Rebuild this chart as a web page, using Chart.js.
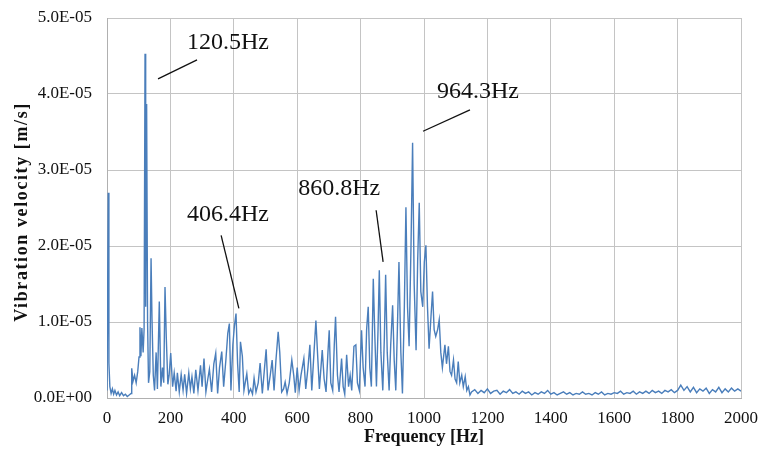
<!DOCTYPE html>
<html>
<head>
<meta charset="utf-8">
<script src="https://cdn.jsdelivr.net/npm/chart.js@4.4.1/dist/chart.umd.min.js"></script>
<style>
    html, body { margin: 0; padding: 0; background: #fff; }
    #wrap { width: 760px; height: 453px; position: relative; }
</style>
</head>
<body>
<div id="wrap"><canvas id="espectro"></canvas></div>
<script>
// Frecuencias (Hz) y velocidad (en 1E-06 m/s), zona 0-1150 Hz
const freqHz = [
    0, 4, 6, 9, 13, 17, 21, 25, 30, 35,
    40, 46, 52, 58, 64, 70, 76, 78, 82, 87,
    92, 97, 101, 104, 107, 110, 114, 117, 120, 122,
    125, 128, 131, 135, 139, 142, 146, 150, 155, 159,
    165, 170, 175, 179, 183, 187, 192, 196, 201, 207,
    212, 218, 222, 228, 234, 240, 245, 251, 258, 263,
    268, 274, 280, 287, 295, 300, 306, 312, 318, 323,
    330, 337, 343, 349, 355, 362, 368, 375, 381, 386,
    391, 397, 402, 407, 412, 417, 421, 427, 432, 436,
    441, 447, 453, 459, 464, 470, 477, 483, 490, 496,
    502, 508, 515, 521, 527, 533, 540, 545, 551, 557,
    562, 568, 575, 583, 589, 594, 600, 606, 612, 621,
    627, 634, 640, 646, 653, 659, 664, 670, 679, 685,
    691, 697, 701, 706, 712, 717, 721, 727, 732, 740,
    745, 750, 756, 762, 767, 772, 779, 785, 790, 796,
    803, 808, 814, 819, 824, 829, 834, 840, 845, 850,
    855, 859, 864, 870, 875, 879, 884, 890, 895, 901,
    906, 911, 916, 921, 927, 932, 938, 943, 948, 953,
    959, 964, 969, 975, 980, 985, 990, 996, 1001, 1006,
    1011, 1016, 1022, 1027, 1032, 1037, 1043, 1048, 1053, 1058,
    1062, 1066, 1071, 1077, 1082, 1087, 1093, 1098, 1103, 1108,
    1113, 1119, 1124, 1130, 1135, 1140, 1145
];
const velocityE6 = [
    1.0, 27.0, 4.6, 1.5, 0.6, 1.2, 0.5, 1.0, 0.4, 0.8,
    0.3, 0.7, 0.3, 0.5, 0.2, 0.4, 0.6, 3.9, 2.2, 3.0,
    2.0, 3.5, 5.4, 9.3, 5.5, 9.2, 6.0, 9.0, 45.3, 12.0,
    38.7, 10.0, 2.0, 3.5, 18.4, 10.3, 3.0, 1.0, 6.0, 1.2,
    12.7, 1.5, 4.0, 2.0, 14.6, 8.0, 1.8, 3.0, 5.9, 1.5,
    3.3, 0.9, 3.3, 0.8, 3.1, 1.0, 3.1, 0.6, 3.3, 1.2,
    2.8, 0.6, 3.7, 1.0, 4.3, 1.5, 5.2, 0.8, 2.5, 3.8,
    0.8, 4.5, 5.9, 0.6, 4.0, 6.1, 1.5, 5.0, 8.5, 9.8,
    1.0, 7.0, 9.5, 11.1, 4.5, 0.8, 7.4, 5.5, 1.0, 2.0,
    3.2, 0.6, 1.2, 0.5, 2.6, 0.8, 2.0, 4.6, 0.6, 3.5,
    6.4, 1.0, 3.0, 5.0, 1.0, 5.0, 8.7, 6.0, 0.8, 1.2,
    2.1, 0.6, 2.0, 5.0, 3.0, 0.7, 4.0, 1.0, 3.0, 5.2,
    1.2, 4.0, 7.0, 1.0, 6.0, 10.2, 6.0, 1.2, 6.3, 2.5,
    0.8, 6.0, 8.9, 2.0, 1.0, 7.0, 10.7, 3.0, 0.8, 5.2,
    1.5, 0.5, 5.7, 1.5, 3.0, 1.0, 6.8, 7.0, 2.0, 1.0,
    8.9, 4.0, 1.5, 9.0, 12.0, 4.0, 1.5, 15.7, 8.0, 1.5,
    9.0, 16.8, 6.0, 1.0, 8.0, 16.2, 6.0, 1.0, 7.0, 12.2,
    5.0, 1.0, 9.0, 17.9, 6.0, 0.6, 12.0, 25.1, 12.0, 6.8,
    20.0, 33.6, 15.0, 6.3, 18.0, 25.7, 14.0, 12.0, 17.9, 20.1,
    12.0, 6.5, 10.7, 14.0, 9.0, 8.1, 9.0, 10.3, 6.0, 4.0,
    5.5, 7.0, 4.5, 6.8, 3.5, 3.0, 5.0, 2.5, 2.0, 4.8,
    2.0, 3.0, 1.5, 2.8, 1.0, 1.5, 0.4
];

// Piso de ruido 1150-2000 Hz, un valor cada 10 Hz (1E-06 m/s)
const floorStartHz = 1150;
const floorStepHz = 10;
const floorE6 = [
    0.8, 1.1, 0.6, 1.0, 0.7, 1.2, 0.6, 0.9, 1.0, 0.5, 0.9, 0.7, 1.1, 0.6, 0.8, 0.5,
    0.9, 0.6, 0.8, 0.4, 0.7, 0.5, 0.8, 0.6, 1.0, 0.5, 0.7, 0.4, 0.6, 0.8, 0.5, 0.7, 0.4, 0.6, 0.5, 0.8,
    0.5, 0.6, 0.4, 0.7, 0.5, 0.8, 0.4, 0.6, 0.5, 0.7, 0.6, 0.9, 0.5, 0.7, 0.6, 0.9, 0.5, 0.8, 0.6, 0.9,
    0.6, 1.0, 0.7, 0.9, 0.6, 1.0, 0.8, 1.1, 0.7, 1.0,
    1.7, 1.0, 1.5, 0.8, 1.4, 0.7, 1.2, 0.9, 1.3, 0.6, 1.1, 0.8, 1.4, 0.7, 1.2, 0.8, 1.3, 0.9, 1.2, 0.9
];

// Etiquetas de picos: texto, posicion del texto y linea guia (Hz, 1E-06 m/s)
const peakLabels = ['120.5Hz', '406.4Hz', '860.8Hz', '964.3Hz'];
const peakTextAt = [[252, 46.7], [252, 24.1], [603, 27.5], [1041, 40.3]];
const peakLineFrom = [[161, 42.0], [360, 21.4], [849, 24.7], [1145, 37.9]];
const peakLineTo = [[284, 44.5], [416, 11.8], [871, 17.9], [997, 35.1]];

const yTitle = 'Vibration velocity [m/s]';
const serif = "'Liberation Serif', 'DejaVu Serif', serif";

// Formato tipo Excel: 5.0E-05
function formatExp(v) {
    const real = v * 1e-6;
    if (real === 0) return '0.0E+00';
    let exp = Math.floor(Math.log10(Math.abs(real)) + 1e-9);
    let mant = real / Math.pow(10, exp);
    const sign = exp < 0 ? '-' : '+';
    return mant.toFixed(1) + 'E' + sign + String(Math.abs(exp)).padStart(2, '0');
}

document.addEventListener('DOMContentLoaded', function() {
    const points = freqHz.map((f, i) => ({ x: f, y: velocityE6[i] }));
    floorE6.forEach((v, i) => points.push({ x: floorStartHz + i * floorStepHz, y: v }));

    const peakLabelPlugin = {
        id: 'peakLabels',
        afterDatasetsDraw(chart) {
            const ctx = chart.ctx;
            const sx = chart.scales.x;
            const sy = chart.scales.y;
            ctx.save();
            ctx.strokeStyle = '#111';
            ctx.lineWidth = 1.3;
            ctx.fillStyle = '#111';
            ctx.font = '24px ' + serif;
            ctx.textBaseline = 'middle';
            ctx.textAlign = 'left';
            peakLabels.forEach((txt, i) => {
                ctx.beginPath();
                ctx.moveTo(sx.getPixelForValue(peakLineFrom[i][0]), sy.getPixelForValue(peakLineFrom[i][1]));
                ctx.lineTo(sx.getPixelForValue(peakLineTo[i][0]), sy.getPixelForValue(peakLineTo[i][1]));
                ctx.stroke();
                ctx.fillText(txt, sx.getPixelForValue(peakTextAt[i][0]), sy.getPixelForValue(peakTextAt[i][1]));
            });

            // titulo del eje Y, con espaciado de letras como el original
            const area = chart.chartArea;
            ctx.translate(22, (area.top + area.bottom) / 2 + 4);
            ctx.rotate(-Math.PI / 2);
            ctx.font = 'bold 18px ' + serif;
            ctx.letterSpacing = '1.6px';
            ctx.textAlign = 'center';
            ctx.fillText(yTitle, 0, 0);
            ctx.restore();
        }
    };

    const ctx = document.getElementById('espectro').getContext('2d');
    new Chart(ctx, {
        type: 'line',
        data: {
            datasets: [{
                data: points,
                borderColor: '#4a7ebb',
                borderWidth: 1.4,
                pointRadius: 0,
                tension: 0,
                fill: false
            }]
        },
        options: {
            responsive: true,
            maintainAspectRatio: false,
            animation: false,
            layout: { padding: { top: 18, right: 19, left: 0, bottom: 0 } },
            plugins: {
                legend: { display: false },
                tooltip: { enabled: false }
            },
            scales: {
                x: {
                    type: 'linear',
                    min: 0,
                    max: 2000,
                    afterFit: function(scale) {
                        scale.height = 55;
                        scale.paddingLeft = 0;
                        scale.paddingRight = 0;
                    },
                    grid: { color: '#c4c4c4', drawTicks: false },
                    border: { color: '#b0b0b0' },
                    ticks: {
                        stepSize: 200,
                        padding: 10,
                        color: '#111',
                        font: { family: serif, size: 17 },
                        callback: v => String(v)
                    },
                    title: {
                        display: true,
                        text: 'Frequency [Hz]',
                        color: '#111',
                        font: { family: serif, size: 18, weight: 'bold' },
                        padding: { top: 0, bottom: 5 }
                    }
                },
                y: {
                    min: 0,
                    max: 50,
                    afterFit: function(scale) {
                        scale.width = 107;
                        scale.paddingTop = 0;
                        scale.paddingBottom = 0;
                    },
                    grid: { color: '#c4c4c4', drawTicks: false },
                    border: { color: '#b0b0b0' },
                    ticks: {
                        stepSize: 10,
                        padding: 15,
                        color: '#111',
                        font: { family: serif, size: 17 },
                        callback: v => formatExp(v)
                    }
                }
            }
        },
        plugins: [peakLabelPlugin]
    });
});
</script>
</body>
</html>
